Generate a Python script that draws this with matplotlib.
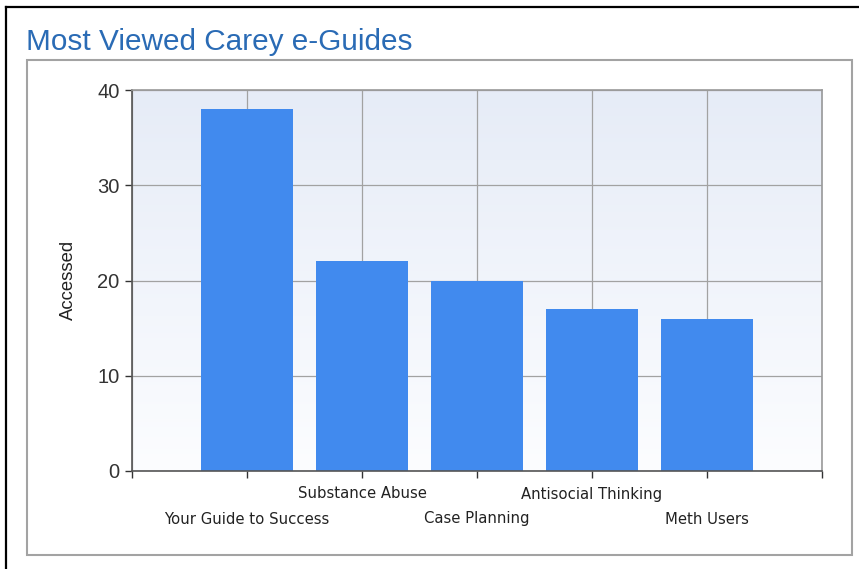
import numpy as np
import matplotlib
matplotlib.use("Agg")
import matplotlib.pyplot as plt
from matplotlib.patches import Rectangle
from matplotlib.lines import Line2D

categories = ["Your Guide to Success", "Substance Abuse", "Case Planning",
              "Antisocial Thinking", "Meth Users"]
accessed = [38, 22, 20, 17, 16]
y_ticks = [0, 10, 20, 30, 40]

W, H = 859, 569
fig = plt.figure(figsize=(W / 100, H / 100), dpi=100)
fig.patch.set_facecolor("white")

def fx(px):
    return px / W

def fy(py):
    return 1 - py / H

# outer black border (left & top)
fig.add_artist(Line2D([fx(6), fx(6)], [fy(7), fy(569)], color="black", lw=1.6,
                      transform=fig.transFigure))
fig.add_artist(Line2D([fx(6), fx(859)], [fy(7), fy(7)], color="black", lw=1.6,
                      transform=fig.transFigure))
# inner gray box
fig.add_artist(Rectangle((fx(27), fy(555)), fx(852) - fx(27), fy(60) - fy(555),
                         transform=fig.transFigure, fill=False,
                         edgecolor="#A3A3A3", lw=1.5))

fig.text(fx(26), fy(42), "Most Viewed Carey e-Guides", fontsize=21.4,
         color="#2A6BB5", family="Liberation Sans", va="center", ha="left")

ax = fig.add_axes([fx(132), fy(471), fx(822) - fx(132), fy(90) - fy(471)])
n = len(categories)
ax.set_xlim(0, n + 1)
ax.set_ylim(0, 40)

# gradient background
grad = np.linspace(0, 1, 256).reshape(-1, 1)
top = np.array([0.902, 0.925, 0.969])
bot = np.array([0.988, 0.992, 1.0])
img = bot + (top - bot) * grad
img = img.reshape(256, 1, 3)
ax.imshow(img, extent=[0, n + 1, 0, 40], origin="lower", aspect="auto", zorder=0)

ax.set_xticks(range(n + 2))
ax.set_xticklabels([])
ax.set_yticks(y_ticks)
ax.set_yticklabels([str(v) for v in y_ticks], fontsize=14.5,
                   family="Liberation Sans", color="#222222")
ax.grid(True, color="#A2A2A2", lw=0.9, zorder=1)
ax.set_axisbelow(True)

positions = np.arange(1, n + 1)
ax.bar(positions, accessed, width=0.8, color="#418AEE", zorder=2)

ax.tick_params(axis="y", direction="out", length=5, width=1, pad=4, colors="#333333")
ax.tick_params(axis="x", direction="out", length=5, width=1, colors="#333333")
for s in ["left", "bottom"]:
    ax.spines[s].set_color("#555555")
    ax.spines[s].set_linewidth(1.2)
for s in ["top", "right"]:
    ax.spines[s].set_color("#9A9A9A")
    ax.spines[s].set_linewidth(1.2)

ax_h = 471 - 90
for i, (p, lab) in enumerate(zip(positions, categories)):
    off = 23 if i % 2 == 1 else 48
    ax.text(p, -off / ax_h, lab, transform=ax.get_xaxis_transform(),
            ha="center", va="center", fontsize=10.7, family="DejaVu Sans",
            color="#222222")

fig.text(fx(68), fy(280), "Accessed", rotation=90, fontsize=13.3,
         family="Liberation Sans", color="#222222", ha="center", va="center")

fig.savefig("out.png", dpi=100)
